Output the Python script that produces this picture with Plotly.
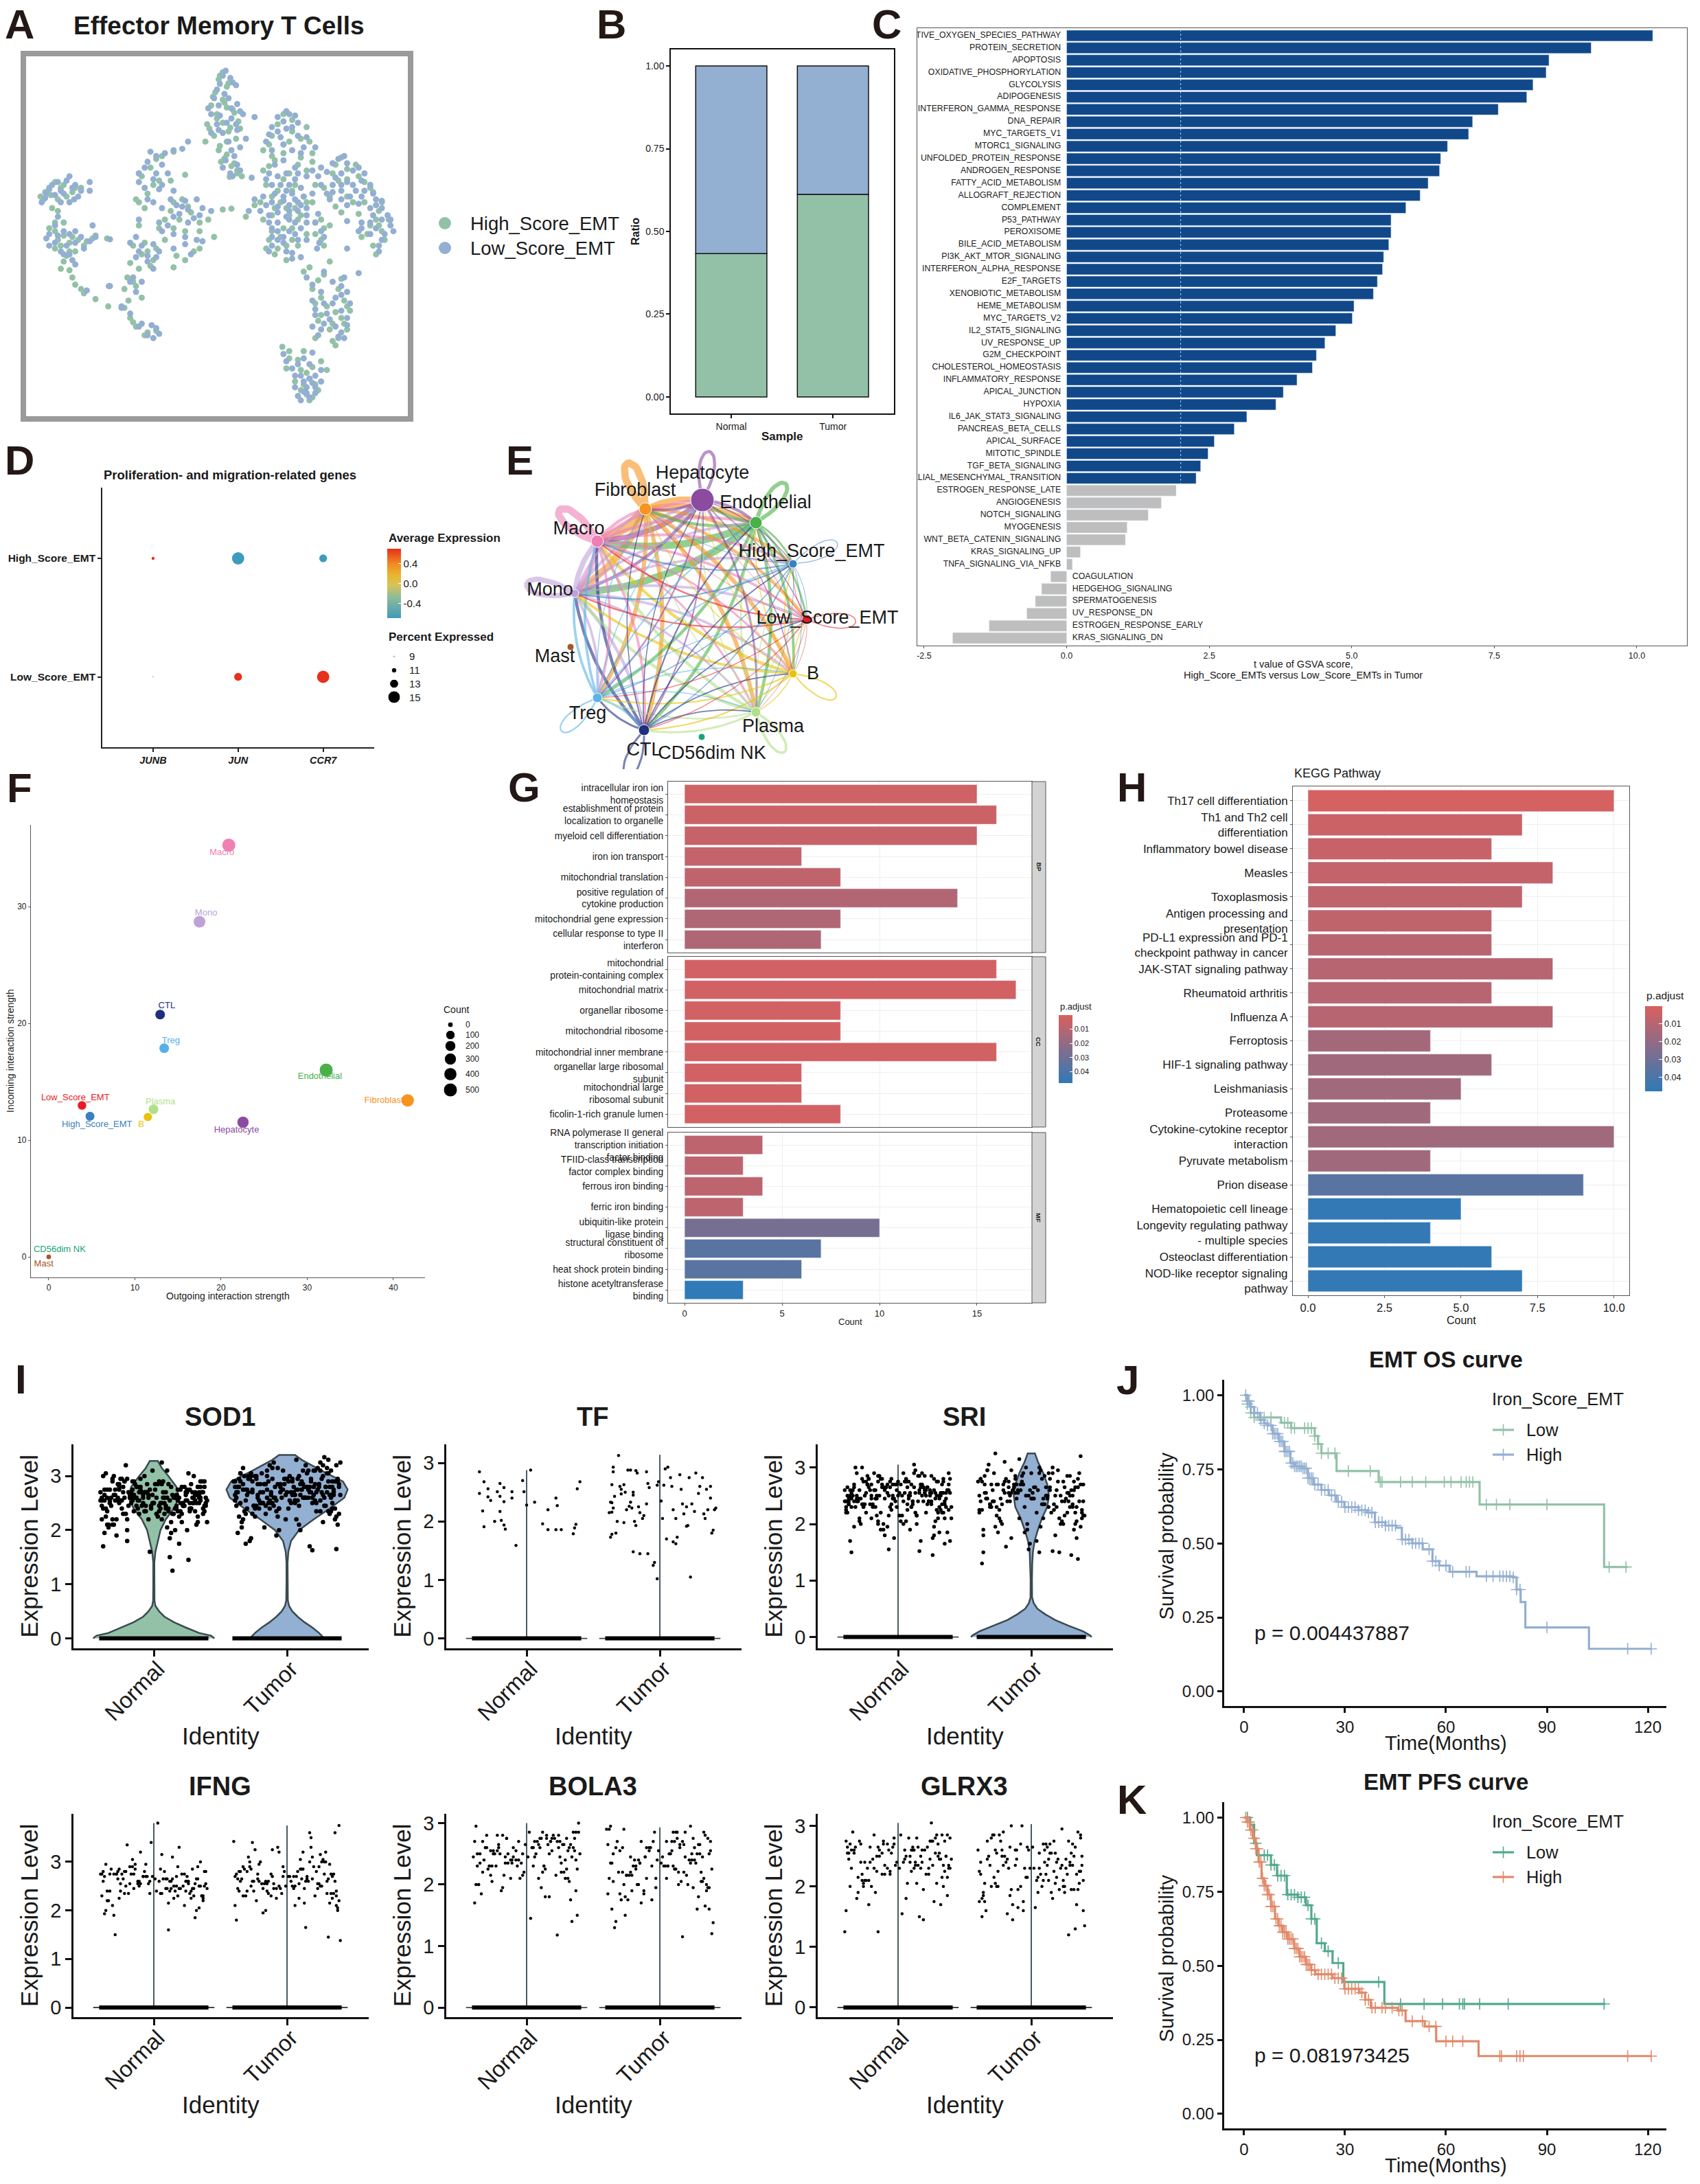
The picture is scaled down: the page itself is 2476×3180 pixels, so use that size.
import plotly.graph_objects as go
from bisect import bisect_right

W, H = 2476, 3180
FONT = "Liberation Sans"
INK = "#1a1a1a"
GREEN = "#93c1a8"
BLUE = "#93afd2"

# ---------- A: UMAP (read-off units) ----------
umap_high_x = [385,378,392,372,385,365,392,375,405,358,385,412,395,370,355,380,408,392,405,410,382,418,470,505,530,455,490,535,520,475,500,455,540,510,480,450,525,495,470,545,515,490,460,505,475,530,495,545,560,555,590,615,575,630,560,600,645,580,620,660,655,635,672,650,665,600,525,570,550,590,540,595,555,580,550,605,570,595,580,545,488,500,525,495,555,530,545,520,535,565,85,110,75,125,100,140,90,110,85,100,125,150,95,130,165,185,110,120,130,145,165,187,300,270,240,265,235,295,320,250,315,285,330,300,360,400,345,370,240,230,285,255,260,320,300,225,345,220,235,215,245,215,225,235,250,440,425]
umap_high_y = [250,275,300,320,345,365,372,395,390,430,425,420,455,470,490,505,480,535,565,600,560,610,470,415,440,520,500,490,545,555,600,590,560,640,660,700,680,720,745,640,760,790,860,830,880,810,900,770,790,830,545,570,600,630,650,680,665,715,740,700,780,810,760,880,830,620,940,905,970,965,1000,1040,1030,1080,1110,1075,1140,1120,1195,1170,1200,1240,1215,1275,1250,1290,1330,1350,1385,1280,650,640,690,665,690,650,720,770,790,830,820,835,860,870,815,825,905,935,985,1015,1035,1060,525,550,600,640,690,625,605,720,690,760,735,790,760,722,800,820,780,850,830,870,920,900,925,910,860,960,990,1000,1030,1065,1100,1130,1160,710,750]
umap_low_x = [390,398,380,408,370,395,360,410,380,400,375,420,440,410,385,365,425,400,385,415,405,435,398,325,495,480,510,470,495,515,460,485,545,505,470,525,490,510,460,480,530,500,470,520,540,490,510,470,440,500,530,450,480,515,465,500,530,480,520,510,470,490,550,470,495,555,548,520,505,595,575,555,610,590,630,550,575,610,590,640,565,625,650,600,640,570,660,675,645,665,620,600,655,625,600,620,530,560,590,540,600,575,545,600,565,540,590,560,595,550,490,515,540,510,545,525,515,545,530,555,120,155,90,105,80,130,72,120,135,155,100,85,110,130,95,115,145,140,110,190,125,160,188,150,210,315,285,260,280,255,240,270,250,280,300,320,265,305,340,310,290,325,345,365,320,350,265,240,270,235,240,300,330,255,230,245,240,262,275,265,225,210,190,430]
umap_low_y = [245,270,290,295,340,340,375,360,400,410,430,395,405,450,460,460,480,520,580,590,540,615,600,490,385,405,400,440,445,470,490,475,510,520,520,510,555,580,620,610,610,640,640,650,670,680,690,700,690,710,720,730,735,730,770,760,770,800,790,810,820,840,740,850,870,800,860,890,875,540,565,580,590,600,600,610,640,640,660,640,670,680,690,710,720,690,720,780,745,810,800,765,850,770,860,945,960,940,990,1040,1010,1050,1070,1100,1085,1130,1150,1120,1170,1160,1225,1260,1220,1300,1300,1320,1370,1360,1340,1320,610,630,640,660,670,640,700,700,680,660,750,810,800,800,840,850,860,820,880,828,900,780,990,1005,1060,515,530,525,570,560,630,600,650,640,660,695,700,710,690,740,780,770,745,730,820,835,845,870,890,820,760,860,880,905,960,975,1130,1125,1155,1170,1085,1065,990,730]
umap_high_more = [(380,262),(395,288),(368,335),(388,355),(402,378),(375,410),(362,445),(398,442),(415,445),(378,520),(392,490),(410,590),(400,575),(388,548),(397,612),(490,395),(480,430),(505,455),(465,500),(500,490),(520,480),(540,530),(470,540),(490,530),(515,570),(465,575),(530,590),(490,620),(505,660),(470,680),(460,640),(530,700),(485,700),(510,720),(500,745),(475,720),(455,760),(520,745),(540,700),(505,790),(470,800),(485,820),(465,830),(515,850),(480,860),(495,850),(545,810),(555,760),(570,780),(560,850),(580,570),(600,585),(620,610),(585,625),(640,650),(570,680),(610,700),(590,735),(630,700),(655,730),(650,760),(660,800),(640,780),(625,820),(645,850),(535,925),(560,950),(585,1000),(600,1060),(565,1060),(545,1050),(590,1100),(575,1120),(555,1090),(585,1170),(600,1140),(575,1180),(500,1215),(515,1245),(540,1270),(520,1280),(535,1310),(525,1330),(550,1350),(540,1375),(510,1320),(530,1365),(95,630),(105,650),(78,665),(115,680),(88,675),(130,650),(70,680),(100,730),(95,770),(95,800),(110,815),(120,840),(135,830),(105,850),(120,870),(145,850),(160,825),(115,885),(105,930),(125,960),(140,1000),(280,540),(260,580),(245,610),(275,625),(255,670),(240,700),(300,700),(325,715),(295,730),(310,760),(275,790),(320,800),(345,770),(385,725),(250,840),(270,860),(245,880),(265,900),(305,885),(335,870),(240,930),(230,975),(222,1040),(230,1115),(255,1150),(270,1145)]
umap_low_more = [(385,262),(402,285),(375,310),(388,325),(378,365),(400,375),(365,395),(415,385),(392,425),(408,430),(378,450),(395,490),(415,510),(390,555),(410,570),(402,610),(500,395),(490,420),(515,425),(480,455),(505,440),(530,475),(465,465),(490,500),(520,530),(475,570),(495,600),(515,600),(540,590),(465,600),(485,640),(510,620),(525,680),(495,660),(455,680),(475,670),(505,670),(515,700),(490,695),(460,710),(520,710),(480,715),(500,730),(530,745),(465,745),(495,750),(510,770),(480,770),(470,790),(500,800),(530,830),(490,820),(480,830),(515,830),(465,870),(505,895),(545,770),(560,820),(552,840),(585,550),(600,565),(620,580),(565,595),(580,615),(600,630),(625,625),(555,640),(590,640),(615,660),(645,670),(575,665),(605,680),(630,660),(660,695),(590,690),(620,705),(650,710),(670,745),(675,760),(660,760),(680,800),(640,770),(650,790),(625,790),(640,810),(660,830),(655,870),(540,985),(575,975),(595,960),(555,1010),(590,1020),(605,1050),(580,1030),(560,1050),(590,1075),(545,1090),(570,1105),(600,1125),(555,1140),(580,1130),(585,1165),(495,1250),(525,1240),(505,1275),(535,1260),(555,1280),(520,1300),(535,1310),(510,1340),(525,1355),(540,1325),(520,1385),(535,1375),(545,1340),(530,1360),(100,630),(115,625),(85,655),(95,675),(110,670),(125,650),(78,685),(105,700),(128,690),(140,660),(95,780),(80,825),(100,815),(120,810),(85,850),(105,870),(130,840),(155,835),(120,880),(130,915),(165,820),(300,520),(270,540),(250,580),(265,620),(240,600),(290,600),(275,655),(255,690),(295,690),(325,725),(280,720),(315,715),(300,750),(275,770),(335,755),(350,720),(300,810),(320,845),(340,830),(245,850),(255,885),(275,870),(235,890),(225,840),(280,800),(265,930),(225,975),(235,1010),(245,1120),(255,1160),(270,1135)]
legend_a = ["High_Score_EMT", "Low_Score_EMT"]

# ---------- B ----------
sample_cats = ["Normal", "Tumor"]
ratio_high = [0.433, 0.612]
ratio_low = [0.567, 0.388]

# ---------- C ----------
hallmark_names = ["CTIVE_OXYGEN_SPECIES_PATHWAY","PROTEIN_SECRETION","APOPTOSIS","OXIDATIVE_PHOSPHORYLATION","GLYCOLYSIS","ADIPOGENESIS","INTERFERON_GAMMA_RESPONSE","DNA_REPAIR","MYC_TARGETS_V1","MTORC1_SIGNALING","UNFOLDED_PROTEIN_RESPONSE","ANDROGEN_RESPONSE","FATTY_ACID_METABOLISM","ALLOGRAFT_REJECTION","COMPLEMENT","P53_PATHWAY","PEROXISOME","BILE_ACID_METABOLISM","PI3K_AKT_MTOR_SIGNALING","INTERFERON_ALPHA_RESPONSE","E2F_TARGETS","XENOBIOTIC_METABOLISM","HEME_METABOLISM","MYC_TARGETS_V2","IL2_STAT5_SIGNALING","UV_RESPONSE_UP","G2M_CHECKPOINT","CHOLESTEROL_HOMEOSTASIS","INFLAMMATORY_RESPONSE","APICAL_JUNCTION","HYPOXIA","IL6_JAK_STAT3_SIGNALING","PANCREAS_BETA_CELLS","APICAL_SURFACE","MITOTIC_SPINDLE","TGF_BETA_SIGNALING","ELIAL_MESENCHYMAL_TRANSITION","ESTROGEN_RESPONSE_LATE","ANGIOGENESIS","NOTCH_SIGNALING","MYOGENESIS","WNT_BETA_CATENIN_SIGNALING","KRAS_SIGNALING_UP","TNFA_SIGNALING_VIA_NFKB","COAGULATION","HEDGEHOG_SIGNALING","SPERMATOGENESIS","UV_RESPONSE_DN","ESTROGEN_RESPONSE_EARLY","KRAS_SIGNALING_DN"]
hallmark_t = [10.28,9.2,8.46,8.41,8.18,8.07,7.57,7.12,7.05,6.68,6.56,6.54,6.34,6.2,5.95,5.69,5.69,5.65,5.56,5.54,5.45,5.38,5.04,5.01,4.72,4.53,4.38,4.31,4.04,3.8,3.67,3.16,2.94,2.59,2.48,2.35,2.27,1.92,1.66,1.43,1.06,1.03,0.24,0.1,-0.28,-0.44,-0.55,-0.7,-1.36,-2.0]
t_threshold = 2.0

# ---------- D ----------
dot_genes = ["JUNB", "JUN", "CCR7"]
dot_groups = ["High_Score_EMT", "Low_Score_EMT"]
dot_expr = [[0.7, -0.7, -0.7], [-0.7, 0.7, 0.7]]
dot_pct = [[9.8, 15.0, 12.5], [8.7, 12.5, 15.0]]
pct_legend = [9, 11, 13, 15]

# ---------- E ----------
net_names = ["Hepatocyte","Endothelial","High_Score_EMT","Low_Score_EMT","B","Plasma","CTL","Treg","Mono","Macro","Fibroblast","Mast","CD56dim NK"]
net_x = [1023,1101,1155,1175,1155,1101,938,870,837,870,940,831,1022]
net_y = [728,761,821,902,981,1037,1063,1016,864,788,741,942,1073]
net_size = [34,18,12,14,12,14,16,14,12,18,18,10,10]
net_colors = ["#8b4ba0","#4ab04a","#3a80c0","#e81c24","#e8c30a","#b2df8a","#1f2f80","#5ab4e8","#c0a0d8","#ee7fb5","#f7931e","#a65628","#1aa37a"]
net_label_x = [1023,1115,1182,1205,1184,1126,938,856,801,843,925,808,1037]
net_label_y = [690,733,804,901,982,1059,1093,1040,860,771,715,957,1098]
net_weight = [
    [3,3,1,1,1,2,1.5,1.5,3,5,2.5],
    [3,4,2,2,2.5,3,3,3,7,7,3],
    [.5,.8,.8,.6,.6,.6,1,1,1.5,1.5,.6],
    [.5,.6,.6,1,.5,.5,.8,.8,1.5,1.5,.5],
    [.8,1,1,1,1.5,1,1.5,1.5,2.5,3,1],
    [1,1.5,1,1,1,2.5,2,1.5,3,3,1],
    [1,1.5,1.2,1.2,1.2,1.2,2,2,3,3,1],
    [1,1.3,1.2,1,1,1,2,1.5,2.5,2.5,1],
    [3,2.5,2.5,2.5,2.5,2,3,2.5,5,5,2],
    [3,3,2.5,2.5,2,2,2.5,2.5,5,7,3],
    [5,5,3,3,4,4,4,4,7,9,7],
]

# ---------- F ----------
scat_names = ["Macro","Mono","CTL","Treg","Endothelial","Fibroblast","Hepatocyte","Low_Score_EMT","High_Score_EMT","Plasma","B","CD56dim NK","Mast"]
scat_out = [20.9,17.5,12.93,13.4,32.2,41.66,22.55,3.86,4.79,12.16,11.5,0,0]
scat_in = [35.26,28.7,20.75,17.87,16.0,13.4,11.53,12.97,12.04,12.64,11.98,0,0]
scat_count = [500,347,170,170,500,420,313,105,125,170,87,0,0]
scat_colors = ["#f080b4","#bda2d6","#1f2f80","#56b0e8","#4ab04a","#f7931e","#8b4ba0","#e81c24","#3a80c0","#b2df8a","#e8c30a","#1aa37a","#a65628"]
scat_label_x = [20.1,18.26,13.7,14.17,31.47,38.9,21.8,3.09,5.6,12.97,10.73,1.27,-0.58]
scat_label_y = [34.6,29.4,21.47,18.47,15.4,13.4,10.87,13.63,11.32,13.27,11.29,0.63,-0.63]
count_legend = [0,100,200,300,400,500]

# ---------- G ----------
go_bp = ["intracellular iron ion<br>homeostasis","establishment of protein<br>localization to organelle","myeloid cell differentiation","iron ion transport","mitochondrial translation","positive regulation of<br>cytokine production","mitochondrial gene expression","cellular response to type II<br>interferon"]
go_bp_n = [15,16,15,6,8,14,8,7]
go_bp_p = [.003,.004,.005,.006,.007,.011,.012,.012]
go_cc = ["mitochondrial<br>protein-containing complex","mitochondrial matrix","organellar ribosome","mitochondrial ribosome","mitochondrial inner membrane","organellar large ribosomal<br>subunit","mitochondrial large<br>ribosomal subunit","ficolin-1-rich granule lumen"]
go_cc_n = [16,17,8,8,16,6,6,8]
go_cc_p = [.002,.002,.002,.002,.002,.002,.002,.002]
go_mf = ["RNA polymerase II general<br>transcription initiation<br>factor binding","TFIID-class transcription<br>factor complex binding","ferrous iron binding","ferric iron binding","ubiquitin-like protein<br>ligase binding","structural constituent of<br>ribosome","heat shock protein binding","histone acetyltransferase<br>binding"]
go_mf_n = [4,3,4,3,10,7,6,3]
go_mf_p = [.008,.008,.008,.008,.028,.036,.036,.048]

# ---------- H ----------
kegg_names = ["Th17 cell differentiation","Th1 and Th2 cell<br>differentiation","Inflammatory bowel disease","Measles","Toxoplasmosis","Antigen processing and<br>presentation","PD-L1 expression and PD-1<br>checkpoint pathway in cancer","JAK-STAT signaling pathway","Rheumatoid arthritis","Influenza A","Ferroptosis","HIF-1 signaling pathway","Leishmaniasis","Proteasome","Cytokine-cytokine receptor<br>interaction","Pyruvate metabolism","Prion disease","Hematopoietic cell lineage","Longevity regulating pathway<br>- multiple species","Osteoclast differentiation","NOD-like receptor signaling<br>pathway"]
kegg_n = [10,7,6,8,7,6,6,8,6,8,4,6,5,4,10,4,9,5,4,6,7]
kegg_p = [.001,.004,.005,.006,.007,.007,.009,.01,.01,.01,.015,.016,.016,.016,.016,.016,.036,.047,.047,.047,.047]

# ---------- I: violin outlines and jittered cells ----------
identity = ["Normal", "Tumor"]
sod1_n_lv = [0,.05,.1,.2,.3,.4,.5,.6,.7,1.0,1.4,1.6,1.8,2.0,2.2,2.4,2.6,2.8,3.0,3.15,3.28]
sod1_n_w = [.455,.43,.34,.24,.15,.08,.04,.012,.005,.004,.004,.012,.03,.05,.09,.15,.19,.17,.11,.06,.03]
sod1_t_lv = [0,.1,.2,.3,.4,.5,.6,.7,1.0,1.4,1.6,1.8,2.0,2.2,2.4,2.6,2.75,2.9,3.1,3.3,3.39]
sod1_t_w = [.28,.24,.19,.13,.08,.04,.015,.006,.004,.004,.01,.03,.09,.2,.32,.43,.455,.42,.26,.11,.06]
sri_t_lv = [0,.03,.1,.2,.3,.4,.5,.6,.7,1.0,1.3,1.5,1.7,1.9,2.1,2.3,2.5,2.7,2.9,3.1,3.25]
sri_t_w = [.453,.44,.39,.28,.18,.106,.046,.018,.006,.005,.007,.012,.025,.05,.08,.12,.132,.12,.09,.05,.027]
line_top = {"TF": (2.88, 3.14), "SRI": (3.05, None), "IFNG": (3.8, 3.75), "BOLA3": (3.0, 2.93), "GLRX3": (3.05, 3.03)}

jx_dense = [-.39,-.12,.21,.05,-.31,.36,-.22,.14,-.04,.29,-.36,.09,-.17,.33,-.27,.01,.18,-.08,.39,-.33,.25,-.14,.07,-.38,.31,-.2,.12,-.01,.37,-.29,-.06,.23,-.35,.16,-.24,.34,.03,-.11,.27,-.37,.1,-.3,.38,-.16,.2,-.03,.32,-.26,.06,-.4,.28,-.09,.15,-.34,.35,-.19,.02,-.13,.24,-.28,-.05,.3,-.21,.11,-.32,.4,-.1,.17,-.25,.08,.26,-.37,.13,-.02,.33,-.18,.22,-.07,.37,-.3,-.15,.04,.29,-.39,.19,-.23,.35,-.11,.09,-.33,.31,-.04,-.27,.14,.38,-.17,.06,-.36,.25,-.12,-.2,.34,0,-.31,.21,-.08,.12,-.26,.39,-.15,.18,-.35,.27,-.01,.32,-.22,.07,-.38,.16,-.06]
jx_dense2 = [0,-.35,.19,-.07,.28,-.24,.11,.36,-.15,-.39,.24,-.02,.33,-.29,.08,-.19,.39,-.1,.16,-.33,-.26,.13,.3,-.05,.22,-.37,.04,-.16,.35,-.23,.1,.27,-.31,-.13,.37,.01,-.21,.17,-.38,.31,-.09,.25,-.28,.06,.34,-.17,.2,-.03,-.34,.14,.38,-.25,.09,-.12,.29,-.36,.02,.23,-.2,.32,-.06,.18,-.3,.12,.4,-.14,.05,-.27,.26,-.4,.15,-.08,.33,-.22,.21,-.32,.07,.36,-.11,-.04,.28,-.37,.16,-.18,.03,.31,-.26,.1,.24,-.13,-.33,.19,.38,-.01,-.24,.13,.35,-.29,.06,-.16,.27,-.07,-.39,.22,.11,-.2,.34,-.35,.17,-.1,.08,.3,-.23,-.05,.25,-.31,.37,-.15,.04,.2]
sod1_n_y = [2.6,2.4,2.8,2.5,2.2,2.7,2.9,2.3,2.6,2.5,3.05,2.45,2.7,2.15,2.55,2.85,2.35,2.65,2.5,2.75,2.0,2.6,2.9,2.4,2.7,1.8,2.55,3.1,2.3,2.65,2.45,2.8,2.1,2.6,2.95,2.5,2.25,2.7,2.4,1.95,2.6,3.0,2.35,2.75,2.5,1.6,2.65,2.85,2.2,2.55,2.4,2.7,2.6,2.05,2.9,2.45,2.3,2.8,2.55,1.9,2.7,2.5,3.2,2.35,2.6,2.15,2.75,2.45,2.95,2.6,1.45,2.55,2.8,2.4,2.25,2.65,2.5,3.0,2.7,2.1,2.35,2.9,2.6,2.45,1.75,2.8,2.55,2.3,2.7,2.5,2.65,2.2,2.85,1.25,2.45,2.6,3.25,2.4,2.75,2.55,2.0,2.7,2.5,2.95,2.3,2.6,1.5,2.8,2.45,2.65,2.55,2.35,2.75,2.5,2.1,2.9,2.6,1.7,2.4,2.7]
sod1_n_y2 = [2.5,2.75,2.6,2.35,2.85,2.55,2.4,2.7,2.9,2.2,2.65,2.45,2.8,2.55,2.3,2.7,2.6,2.95,2.4,2.5,2.75,2.15,2.6,2.85,2.45,2.65,2.35,2.55,2.8,2.7,2.05,2.5,2.9,2.6,2.4,2.75,2.3,2.65,3.0,2.55,2.45,2.7,2.2,2.85,2.6,2.5,2.35,2.75,2.1,2.65,2.9,2.55,2.4,2.8,2.7,2.25,2.6,2.45,2.95,2.5,2.35,2.75,2.65,1.85,2.55,2.85,2.4,2.6,3.05,2.7,2.3,2.5,2.8,2.6,2.15,2.45,2.7,2.9,2.55,2.65,2.4,2.75,2.0,2.6,2.85,2.35,2.5,3.1,2.7,2.45,2.55,2.25,2.8,2.65,2.4,1.95,2.6,2.75,2.5,2.9,2.35,2.7,2.55,2.45,2.85,2.2,2.65,2.6,2.4,2.8,2.5,3.0,2.3,2.7,2.55,2.1,2.9,2.65,2.45,2.75]
sod1_t_y = [2.8,2.5,3.1,2.7,2.3,2.9,2.6,3.2,2.75,2.45,2.95,2.1,2.85,2.6,3.0,2.4,2.7,1.9,2.8,3.15,2.55,2.9,2.2,2.7,3.3,2.5,2.85,2.65,1.65,2.95,2.4,2.75,3.05,2.6,2.25,2.9,2.7,2.5,3.2,2.8,2.0,2.65,2.95,2.45,2.8,3.1,2.3,2.7,2.55,2.9,3.35,2.6,2.8,2.15,2.75,2.5,3.0,2.4,2.85,1.8,2.7,3.05,2.55,2.9,2.35,2.65,3.25,2.8,2.45,2.75,2.95,1.95,2.6,2.85,3.1,2.5,2.7,2.25,2.9,2.4,3.0,2.65,2.8,2.55,1.63,2.95,2.7,3.15,2.45,2.85,2.35,2.75,3.05,2.6,2.9,2.05,2.5,2.8,3.25,2.65,2.7,2.4,2.95,1.75,2.85,2.55,3.1,2.75,2.3,2.6,2.9,2.5,3.0,2.2,2.8,2.65,3.3,2.45,2.75,2.0]
sod1_t_y2 = [2.7,2.9,2.5,2.85,2.6,3.0,2.75,2.4,3.1,2.65,2.8,2.95,2.35,2.7,2.55,3.05,2.85,2.45,2.75,2.2,2.9,2.6,3.15,2.8,2.5,2.7,2.95,2.3,2.65,3.0,2.85,2.15,2.75,2.55,3.2,2.9,2.4,2.7,2.6,3.05,2.8,2.35,2.95,2.65,2.5,2.85,3.1,2.75,2.05,2.6,2.9,2.45,3.0,2.7,2.8,2.25,2.55,3.15,2.85,2.65,2.4,2.95,2.75,2.6,3.25,2.5,2.8,1.85,2.7,2.9,3.05,2.35,2.65,2.85,2.55,3.0,2.75,2.2,2.95,2.6,2.45,2.8,3.1,2.7,2.5,2.9,2.3,2.65,2.85,3.2,2.75,2.6,2.1,2.95,2.4,2.8,2.7,3.0,2.55,2.85,2.65,3.15,2.9,2.35,2.75,2.5,2.8,3.05,1.7,2.6,2.95,2.7,2.45,2.85,3.1,2.55,2.25,2.75,2.9,2.65]
sri_n_y = [2.4,2.7,2.2,2.55,2.9,2.3,2.65,2.0,2.45,2.75,2.5,1.9,2.6,2.35,2.8,2.15,2.5,2.7,1.7,2.4,2.55,2.85,2.25,2.65,1.85,2.45,3.05,2.3,2.6,2.1,2.75,2.4,1.5,2.55,2.2,2.8,2.5,2.65,1.95,2.35,2.7,2.45,2.9,2.15,2.6,1.75,2.5,2.3,2.75,2.4,2.05,2.65,2.85,2.5,1.65,2.35,2.7,2.2,2.55,2.45,2.8,2.1,2.6,2.4,3.0,2.3,1.8,2.65,2.5,2.75,1.45,2.45,2.2,2.7,2.55,2.9,2.35,1.55,2.6,2.4,2.75,2.0,2.5,2.25,2.65,2.85,2.4,1.9,2.55,2.7,2.3,2.5,3.0,2.15,2.6,2.45,2.8,1.7,2.35,2.65,2.5,2.2,2.75,2.4,2.6,1.95,2.9,2.3,2.55,2.05,2.7,2.45,1.8,2.6,2.25,2.8,2.35,2.5,1.52,2.65]
sri_n_y2 = [2.5,2.3,2.65,2.15,2.45,2.75,2.35,2.55,2.85,2.2,2.6,2.4,2.7,2.05,2.5,2.3,2.8,2.45,2.6,1.95,2.35,2.55,2.75,2.25,2.65,2.4,2.9,2.5,2.1,2.7,2.3,2.6,2.45,2.8,1.85,2.55,2.35,2.7,2.2,2.5,2.65,2.4,2.0,2.75,2.55,2.3,2.85,2.45,2.6,2.15,2.7,2.35,2.5,2.8,2.25,2.6,2.05,2.4,2.7,2.55,2.3,2.9,2.45,2.65,2.1,2.5,2.75,2.35,1.75,2.6,2.4,2.55,2.2,2.8,2.5,2.3,2.65,2.45,2.0,2.7,2.55,2.35,2.85,2.6,2.15,2.45,2.75,2.3,2.5,1.9,2.65,2.4,2.25,2.7,2.55,2.95,2.35,2.6,2.05,2.45,2.8,2.5,2.3,2.65,2.4,2.1,2.75,2.55,1.7,2.6,2.45,2.2,2.7,2.35,2.85,2.5,2.6,2.0,2.4,2.55]
sri_t_y = [2.5,2.8,2.1,2.6,2.35,2.9,2.0,2.65,3.0,2.3,1.5,2.45,2.75,2.2,3.25,2.55,1.8,2.7,2.4,2.95,2.15,2.6,1.95,2.8,2.3,3.1,2.5,1.65,2.7,2.4,2.9,2.05,2.55,3.0,2.25,1.75,2.65,2.45,2.85,1.3,2.35,2.7,2.1,2.5,2.95,1.9,2.6,2.3,1.5,2.75,2.4,3.15,2.2,2.55,2.8,1.6,2.45,2.65,2.0,2.9,2.3,1.45,2.7,2.5,3.05,2.15,2.6,2.35,1.85,2.8,2.45,2.25,2.9,1.55,2.65,2.4,2.0,2.75,3.2,2.3,2.55,1.7,2.85,2.2,2.6,2.45,1.38,2.7,2.1,2.95,2.35,2.5,1.95,2.8,2.25,2.65,3.0,1.8,2.4,2.55,2.75,2.05,2.9,2.3,1.5,2.6,2.45,2.15,2.7,1.75,2.5,2.85,2.2,2.6,1.9,2.35,2.95,2.4,1.52,2.7]
sri_t_y2 = [2.45,2.7,2.3,2.85,2.55,2.1,2.65,2.4,2.95,2.25,2.75,2.5,2.0,2.6,2.35,2.8,2.15,2.55,2.9,2.45,2.7,2.3,2.6,1.85,2.5,2.75,2.2,2.4,2.65,2.05,2.85,2.55,2.35,2.7,1.95,2.45,2.6,2.25,2.8,2.5,2.1,2.65,2.4,2.9,2.3,2.55,2.75,2.0,2.45,2.6,2.2,2.7,2.35,2.85,2.5,1.9,2.65,2.4,2.55,2.75]
jx_sparse = [-.38,.12,-.2,.3,-.05,.37,-.28,.18,-.12,.24,-.35,.06,.33,-.24,.15,-.02,.39,-.31,.09,-.16,.27,-.37,.2,-.08,.35,-.26,.03,.13,-.33,.29,-.1,.22,-.4,.36,-.18,.07,-.29,.16,.38,-.14,-.22,.31,-.03,.25,-.34,.1,-.07,.34,-.25,.19,-.36,.01,.28,-.17,.14,-.3,.4,-.11,.23,-.39,.05,.32,-.21,.17,-.06,.37,-.27,.11,-.15,.26]
jx_sparse2 = [.04,-.33,.21,-.11,.36,-.23,.08,.29,-.37,.15,-.04,.33,-.19,.25,-.3,.11,.38,-.14,.02,-.27,.18,-.08,.31,-.36,.13,-.21,.24,.06,-.39,.35,-.16,.1,-.25,.28,-.01,.39,-.32,.19,-.12,.23,-.28,.05,.34,-.18,.14,-.35,.3,-.06,.26,-.22,.09,-.38,.37,-.15,.17,-.03,.32,-.26,.12,-.1]
ifng_n_y = [2.8,2.6,3.35,2.45,2.7,2.3,2.75,2.9,2.55,2.4,2.2,3.15,2.65,2.75,2.5,3.4,2.8,2.1,2.65,2.9,2.35,1.93,2.45,2.7,3.0,2.25,3.8,2.6,2.75,2.85,3.2,2.5,2.75,2.3,2.55,2.65,1.5,2.4,2.8,2.95,2.35,1.85,2.6,2.7,2.2,2.45,2.8,2.05,2.55,3.3,2.95,2.65,2.4,2.75,3.1,1.9,2.45,2.6,2.75,2.3,2.85,2.0,2.5,2.7,2.95,2.25,2.8,1.6,2.45,2.6]
ifng_n_y2 = [2.6,2.4,2.75,2.5,2.3,2.65,2.8,2.45,2.7,2.25,2.55,2.9,2.35,2.6,2.75,2.15,2.5,2.85,2.4,2.65,2.3,2.7,2.55,2.0,2.45,2.8,2.6,2.35,2.75,2.5,3.05,2.65,2.4,2.25,2.7,2.55,2.85,2.45,2.6,2.1,2.75,2.35,2.5,2.9,2.65,2.4,2.3,2.7,2.55,2.8,2.45,2.6,2.2,2.75,2.5,2.35,2.65,2.85,2.4,2.55]
ifng_t_y = [1.8,3.2,3.0,2.6,2.45,2.1,3.0,3.5,2.75,2.9,2.6,2.5,2.35,3.25,2.7,2.8,3.75,2.3,2.55,2.0,3.05,2.65,2.9,2.45,2.75,3.4,2.6,2.15,2.3,3.2,2.55,2.8,3.42,3.6,2.45,2.7,3.1,2.6,2.05,2.35,2.75,1.45,2.9,2.5,2.65,2.85,3.3,2.25,2.6,3.1,2.4,2.7,3.0,2.55,1.65,2.8,1.38,3.25,2.45,2.1,2.7,2.95,2.6,3.6,2.5,2.3,2.85,2.65,2.4,3.0]
ifng_t_y2 = [2.5,2.9,2.3,2.7,2.6,2.2,2.8,3.0,2.45,2.65,2.35,2.75,2.55,3.15,2.4,2.85,2.0,2.6,2.7,2.5,3.3,2.25,2.65,2.8,2.45,2.95,2.55,2.1,2.7,2.35,2.6,3.05,2.4,2.75,2.5,2.2,2.85,2.65,2.3,2.55,2.9,2.45,2.7,1.95,2.6,2.8,2.35,3.2,2.5,2.65,2.25,2.75,2.4,2.55,3.0,2.7,2.15,2.6,2.85,2.45]
bola3_n_y = [2.95,2.2,2.5,2.75,2.1,2.85,2.3,2.7,2.4,2.6,2.35,2.7,1.75,2.5,2.75,2.2,3.0,2.6,2.1,2.45,2.65,2.3,2.8,2.55,2.85,2.05,1.45,2.3,2.7,2.4,2.6,2.15,2.45,2.75,1.95,2.5,2.25,2.65,1.5,2.35,2.8,2.1,2.5,2.7,1.85,2.6,2.3,1.4,2.55,2.75,2.0,2.45,2.65,2.15,2.25,2.8,2.5,2.35,1.18,2.7,2.3,2.05,2.6,1.8,2.4,1.9,2.55,1.95,2.75,2.2]
bola3_n_y2 = [2.6,2.2,2.75,2.4,2.55,2.3,2.7,2.1,2.5,2.8,2.35,2.65,1.9,2.45,2.6,2.75,2.25,2.5,2.85,2.15,2.7,2.4,2.55,2.0,2.3,2.65,2.8,2.45,1.7,2.6,2.35,2.75,2.5,2.2,2.65,2.85,2.4,2.55,2.1,2.7,2.3,2.6,2.45,2.8,1.8,2.5,2.25,2.7,2.35,2.55,2.65,2.0,2.4,2.75,2.5,2.15,2.6,2.3,2.85,2.45]
bola3_t_y = [2.1,2.85,2.3,2.5,2.7,1.6,2.2,2.65,1.9,2.4,2.05,2.3,2.85,1.75,2.6,2.4,1.2,2.2,2.7,2.0,2.35,2.95,2.15,2.55,1.9,1.5,2.3,2.85,1.4,2.65,2.1,2.4,2.9,1.95,2.25,2.5,1.75,2.05,2.55,2.7,2.45,2.2,1.95,2.75,1.3,2.3,2.6,1.65,2.15,2.85,1.6,2.35,2.5,2.0,2.2,1.85,1.38,2.45,2.95,1.85,2.7,2.05,2.15,1.15,2.3,2.5,2.0,2.7,2.35,2.6]
bola3_t_y2 = [2.3,2.6,2.0,2.45,2.75,2.15,2.5,1.8,2.35,2.65,2.85,2.1,2.4,1.95,2.55,2.25,2.7,1.7,2.45,2.9,2.2,2.6,2.05,2.35,2.75,1.9,2.5,2.3,2.65,2.0,2.4,2.85,2.15,1.6,2.55,2.25,2.7,2.45,1.85,2.35,2.6,2.1,2.8,2.3,2.0,2.5,2.65,1.75,2.4,2.2,2.55,2.9,1.95,2.35,2.7,2.1,2.45,1.8,2.25,2.6]
glrx3_n_y = [2.65,2.3,2.0,2.7,2.55,1.85,2.4,2.6,2.2,2.75,2.3,2.5,2.85,2.1,2.65,2.35,2.8,1.8,2.5,2.25,1.75,2.45,2.6,2.3,2.75,2.05,1.55,2.4,2.55,2.85,2.2,2.65,1.25,2.5,2.3,2.05,2.75,1.5,2.35,2.6,2.1,2.45,2.7,3.05,2.9,2.25,2.6,2.0,2.4,1.45,2.7,2.3,2.55,1.9,2.8,2.15,2.45,2.75,2.3,1.6,2.6,1.7,2.4,2.5,2.2,2.85,2.1,2.65,1.25,2.35]
glrx3_n_y2 = [2.4,2.6,2.2,2.7,2.5,2.3,2.8,2.05,2.55,2.35,2.65,2.15,2.45,2.75,1.9,2.6,2.3,2.5,2.85,2.2,2.4,2.7,2.55,2.0,2.35,2.65,2.45,1.8,2.75,2.25,2.5,2.6,2.1,2.8,2.4,2.3,2.65,1.95,2.55,2.2,2.7,2.45,2.35,2.85,2.05,2.6,2.5,2.25,2.75,1.7,2.4,2.55,2.15,2.65,2.3,2.8,2.45,2.0,2.6,2.35]
glrx3_t_y = [2.2,2.65,2.5,1.95,2.3,2.85,2.15,2.55,2.35,2.0,1.75,2.3,1.3,2.85,1.9,2.6,2.1,2.35,2.7,1.85,2.2,1.5,2.45,2.0,2.9,2.55,1.65,2.1,2.75,2.4,1.95,2.3,2.6,2.05,1.55,2.2,2.85,1.8,2.35,1.45,2.5,2.7,2.15,2.0,1.6,2.6,3.0,1.7,2.25,2.4,1.9,2.65,1.2,2.3,2.55,2.0,1.35,2.45,2.95,1.75,2.15,1.95,2.35,2.75,1.6,2.25,2.05,2.7,3.0,2.45]
glrx3_t_y2 = [2.1,2.45,1.95,2.6,2.25,2.75,2.0,2.35,1.8,2.55,2.15,2.65,2.4,1.9,2.8,2.2,2.5,1.7,2.3,2.6,2.05,2.7,2.35,1.85,2.45,2.9,2.1,2.55,2.25,1.95,2.65,2.4,2.0,2.75,2.3,1.6,2.5,2.15,2.6,2.35,2.85,1.9,2.2,2.45,2.7,2.05,2.55,1.75,2.3,2.6,2.1,2.4,2.8,1.95,2.25,2.65,2.5,2.0,2.35,1.65]
tf_n_x = [-.354,-.32,-.29,-.354,-.29,-.27,-.33,-.2,-.17,-.22,-.11,-.2,-.11,-.17,-.2,-.24,-.19,-.17,-.16,-.32,-.08,-.03,-.02,0,.03,.06,.16,.22,.23,.12,.16,.22,.26,.36,.37,.35,.38,.4]
tf_n_y = [2.85,2.68,2.56,2.48,2.42,2.36,2.18,2.65,2.58,2.51,2.51,2.43,2.4,2.34,2.17,2.0,2.02,1.94,1.87,1.91,1.59,2.7,2.51,2.28,2.88,2.33,2.2,2.4,2.27,1.96,1.86,1.86,1.86,1.89,1.95,1.79,2.56,2.68]
tf_t_x = [-.38,-.37,-.36,-.35,-.36,-.37,-.36,-.33,-.35,-.35,-.36,-.32,-.34,-.31,-.3,-.29,-.29,-.27,-.26,-.27,-.25,-.24,-.22,-.2,-.23,-.22,-.21,-.18,-.17,-.19,-.18,-.2,-.16,-.15,-.13,-.12,-.1,-.09,-.09,-.08,-.05,-.04,-.02,-.02,-.01,.01,.02,.03,.04,.06,.08,.09,.1,.1,.12,.12,.15,.16,.17,.18,.2,.21,.2,.22,.24,.26,.27,.29,.3,.32,.33,.34,.35,.36,.38,.39,.41,.42,.4,.38,-.15,-.2,.23,.13,-.1,.05]
tf_t_y = [2.15,2.33,2.32,2.23,2.16,1.73,1.78,1.8,2.93,2.85,2.63,2.0,2.43,3.13,2.6,2.55,2.47,2.63,2.5,1.98,2.2,2.88,2.88,2.45,2.26,2.33,2.23,2.87,2.83,2.0,1.93,2.5,2.25,2.15,2.05,2.1,2.85,2.65,1.45,2.58,1.25,1.3,1.02,2.62,2.68,2.35,2.05,2.62,2.9,2.93,2.75,2.6,2.2,1.65,2.05,1.62,2.8,2.55,2.3,2.13,1.92,1.93,2.25,2.75,2.3,2.17,2.83,2.48,2.6,2.75,2.13,2.05,2.55,2.2,2.4,1.8,2.2,2.23,1.85,2.6,1.45,1.48,1.05,1.73,2.3,1.7]

# ---------- J, K: survival steps and censor times ----------
os_low_t = [0,1,2,3,11,14,21,22,23,27.5,40,70,107,114]
os_low_s = [1,.97,.94,.925,.907,.889,.862,.835,.804,.744,.707,.631,.42,.42]
os_low_c = [1,2,3,5,6,8,12,13,14,15,18,19,20,21,22,23,25,27,31,37.5,40.5,41,46.5,50,54,59.5,61.5,64.5,66,67,68,72,75,79,90,108.5,113.5]
os_high_t = [0,1,2,3,4.7,6,7,8.5,10.4,12,13.8,15,17.2,19,20.6,23,25.2,27.5,29.8,34,36.6,38.9,42,45.2,46.9,50,53.1,56,58,61.1,69.1,79.9,81,82.2,83.6,102.5,121]
os_high_s = [1,.98,.96,.94,.916,.905,.898,.87,.844,.81,.771,.76,.753,.72,.698,.68,.662,.64,.622,.612,.604,.571,.56,.553,.513,.5,.48,.44,.425,.404,.389,.385,.344,.302,.216,.144,.144]
os_high_c = [.5,1,1.5,2,3,4,5,6,7,8,8.5,9,9.5,10,10.5,11,11.5,12,12.5,13,13.5,14,14.5,15,15.5,16,16.5,17,17.5,18,18.5,19,19.5,20,20.5,21,22,23,24,25,26,27,28,29,30,31,32,33,34,35,36,37,38,39,40,41,42,43,44,45,47,48,49,50,51,52,53,55,56,57,58,60,62,66,67,72,74,76,77,78,79,80,81,82,90,114,121]
pfs_low_t = [0,1.8,3,3.8,7,8,9.8,12.7,16,18.4,20,21.6,24,26.3,29.5,41.7,107.3]
pfs_low_s = [1,.976,.913,.873,.873,.84,.804,.74,.731,.704,.658,.576,.549,.509,.445,.371,.371]
pfs_low_c = [1,3.5,6,7,8,9,10,11,12,13,14,15,16,17,18,19,20,21,23,25,28,40,46.5,53.5,59,64,65,65.5,70,78.5,107]
pfs_high_t = [0,1,1.8,2.6,3.5,4.3,5.2,6,7,8,9.2,10.3,11.5,13,14.9,16.5,18.4,20,21.2,26.3,29.8,34.3,36,37.7,45.7,48,53.7,57.1,67.4,69.7,121]
pfs_high_s = [1,.985,.958,.93,.895,.85,.795,.77,.74,.7,.658,.635,.613,.59,.558,.53,.504,.485,.471,.458,.422,.409,.385,.358,.349,.313,.295,.245,.245,.195,.195]
pfs_high_c = [.5,1,1.5,2,2.5,3,3.5,4,4.5,5,5.5,6,6.5,7,7.5,8,8.5,9,9.5,10,10.5,11,11.5,12,12.5,13,13.5,14,14.5,15,15.5,16,16.5,17,17.5,18,18.5,19,19.5,20,21,22,23,24,25,26,27,28,29,30,31,32,33,34,35,36,37,38,39,41,42,44,46,47,50,53,55,57,60,62,65,76,76.5,81,82,83,114,121]
km_ticks_x = [0,30,60,90,120]
km_ticks_y = [0,.25,.5,.75,1]

# =========================================================================
fig = go.Figure()
layout = dict(width=W, height=H, margin=dict(l=0, r=0, t=0, b=0, autoexpand=False), barmode="overlay",
              paper_bgcolor="white", plot_bgcolor="rgba(0,0,0,0)", showlegend=False,
              font=dict(family=FONT, color=INK), annotations=[], shapes=[])

_n = [0]
def axes(box, xr, yr, xkw=None, ykw=None):
    _n[0] += 1
    k = "" if _n[0] == 1 else str(_n[0])
    l, t, r, b = box
    base = dict(showgrid=False, zeroline=False, ticks="", showticklabels=False, showline=False, automargin=False)
    xa = dict(base, domain=[l / W, r / W], range=xr, anchor="y" + k)
    ya = dict(base, domain=[1 - b / H, 1 - t / H], range=yr, anchor="x" + k)
    xa.update(xkw or {}); ya.update(ykw or {})
    layout["xaxis" + k] = xa
    layout["yaxis" + k] = ya
    return "x" + k, "y" + k

def txt(x, y, s, size, bold=False, color=INK, anchor="center", angle=0):
    layout["annotations"].append(dict(x=x / W, y=1 - y / H, xref="paper", yref="paper", text=f"<b>{s}</b>" if bold else s,
        showarrow=False, font=dict(size=size, color=color, family=FONT), xanchor=anchor, yanchor="middle", textangle=angle))

def tickax(size, vals=None, text=None, ln=5, line=1.5, color="#222", **kw):
    d = dict(ticks="outside", ticklen=ln, tickwidth=line, tickcolor=color, showticklabels=True,
             tickfont=dict(size=size, family=FONT, color=INK), showline=True, linewidth=line, linecolor=color)
    if vals is not None:
        d.update(tickmode="array", tickvals=vals)
    if text is not None:
        d["ticktext"] = text
    d.update(kw)
    return d

# panel letters
for s, x, y in [("A",28,35),("B",890,35),("C",1291,35),("D",28,670),("E",757,670),("F",28,1147),("G",763,1146),("H",1648,1146),("I",30,2008),("J",1642,2009),("K",1648,2620)]:
    txt(x, y, s, 60, bold=True, color="#231815")

# full-page helper axes for hand-placed legends
ovx, ovy = axes((0, 0, W, H), [0, W], [H, 0])

# A
fr = dict(showline=True, linewidth=8, linecolor="#9a9a9a", mirror=True)
x, y = axes((38, 82, 594, 606), [45, 705], [1440, 195], fr, fr)
hx = umap_high_x + [p[0] for p in umap_high_more]
hy = umap_high_y + [p[1] for p in umap_high_more]
lx = umap_low_x + [p[0] for p in umap_low_more]
ly_u = umap_low_y + [p[1] for p in umap_low_more]
fig.add_trace(go.Scatter(x=hx, y=hy, xaxis=x, yaxis=y, mode="markers", marker=dict(size=9, color=GREEN, opacity=1)))
fig.add_trace(go.Scatter(x=lx, y=ly_u, xaxis=x, yaxis=y, mode="markers", marker=dict(size=9, color=BLUE, opacity=1)))
txt(105, 38, "Effector Memory T Cells", 37, bold=True, anchor="left")
fig.add_trace(go.Scatter(x=[648, 648], y=[325, 361], xaxis=ovx, yaxis=ovy, mode="markers", marker=dict(size=18, color=[GREEN, BLUE], opacity=1)))
txt(683, 325, legend_a[0], 27.5, anchor="left")
txt(683, 361, legend_a[1], 27.5, anchor="left")

# B
fb = dict(mirror=True)
x, y = axes((977, 72, 1302, 602), [-0.595, 1.6], [-0.05, 1.05],
            tickax(14, [0, 1], sample_cats, color="#111", **fb),
            tickax(14, [0, .25, .5, .75, 1], ["0.00", "0.25", "0.50", "0.75", "1.00"], color="#111", **fb))
fig.add_trace(go.Bar(x=[0, 1], y=ratio_high, xaxis=x, yaxis=y, width=.7, marker=dict(color=GREEN, line=dict(color="#111", width=1.5))))
fig.add_trace(go.Bar(x=[0, 1], y=ratio_low, base=ratio_high, xaxis=x, yaxis=y, width=.7, marker=dict(color=BLUE, line=dict(color="#111", width=1.5))))
txt(925, 337, "Ratio", 16, bold=True, angle=-90)
txt(1139, 635, "Sample", 17, bold=True)

# C
idx = list(range(len(hallmark_t)))
x, y = axes((1336, 41, 2457, 940), [-2.62, 10.88], [49.61, -0.61],
            tickax(12.5, [-2.5, 0, 2.5, 5, 7.5, 10], ["-2.5", "0.0", "2.5", "5.0", "7.5", "10.0"], line=1, ln=3, mirror=True, color="#555"),
            dict(showline=True, linewidth=1, linecolor="#555", mirror=True))
fig.add_trace(go.Bar(y=idx, x=hallmark_t, orientation="h", xaxis=x, yaxis=y, width=.89,
                     marker=dict(color=["#10488a" if v > t_threshold else "#bebebe" for v in hallmark_t])))
n_sig = sum(v > t_threshold for v in hallmark_t)
fig.add_trace(go.Scatter(x=[t_threshold, t_threshold], y=[-.5, n_sig - .5], xaxis=x, yaxis=y, mode="lines",
                         line=dict(color="#a9d6f0", width=1, dash="dot")))
pos = [i for i in idx if hallmark_t[i] >= 0]
neg = [i for i in idx if hallmark_t[i] < 0]
fig.add_trace(go.Scatter(x=[-.1] * len(pos), y=pos, text=[hallmark_names[i] for i in pos], xaxis=x, yaxis=y, mode="text",
                         textposition="middle left", textfont=dict(size=12.3, family=FONT, color=INK)))
fig.add_trace(go.Scatter(x=[.1] * len(neg), y=neg, text=[hallmark_names[i] for i in neg], xaxis=x, yaxis=y, mode="text",
                         textposition="middle right", textfont=dict(size=12.3, family=FONT, color=INK)))
txt(1898, 967, "t value of GSVA score,", 14.5)
txt(1898, 983, "High_Score_EMTs versus Low_Score_EMTs in Tumor", 14.5)

# D
def pct_size(p):
    return 1.5 + (p - 8.7) * 2.6
CS_D = [[0, "#3f9bbb"], [.3, "#8fbb9a"], [.48, "#d8c455"], [.62, "#e8b530"], [.78, "#ee8c22"], [1, "#e8301a"]]
x, y = axes((149, 710, 545, 1088), [-.597, 2.6], [1.594, -.597],
            tickax(14.5, [0, 1, 2], [f"<b><i>{g}</i></b>" for g in dot_genes], color="#222"),
            tickax(15.5, [0, 1], [f"<b>{g}</b>" for g in dot_groups], color="#222"))
dx = [j for i in range(2) for j in range(3)]
dy = [i for i in range(2) for j in range(3)]
fig.add_trace(go.Scatter(x=dx, y=dy, xaxis=x, yaxis=y, mode="markers", marker=dict(
    size=[pct_size(dot_pct[i][j]) for i, j in zip(dy, dx)], color=[dot_expr[i][j] for i, j in zip(dy, dx)], opacity=1,
    cmin=-.7, cmax=.7, colorscale=CS_D, line=dict(width=0), showscale=True,
    colorbar=dict(x=564 / W, xanchor="left", y=1 - 799 / H, yanchor="top", len=101, lenmode="pixels", thickness=20, thicknessmode="pixels",
                  tickvals=[-.4, 0, .4], ticktext=["-0.4", "0.0", "0.4"], ticks="inside", ticklen=4, tickcolor="white", outlinewidth=0, xpad=0, ypad=0,
                  tickfont=dict(size=15, family=FONT, color=INK)))))
txt(149, 691, "Proliferation- and migration-related genes", 18.5, bold=True, anchor="left")
txt(564, 783, "Average Expression", 17, bold=True, anchor="left")
txt(564, 928, "Percent Expressed", 17, bold=True, anchor="left")
ly = [956, 976, 995.5, 1015]
fig.add_trace(go.Scatter(x=[574] * 4, y=ly, xaxis=ovx, yaxis=ovy, mode="markers", marker=dict(color="black", opacity=1, size=[pct_size(p) for p in pct_legend])))
for p, yy in zip(pct_legend, ly):
    txt(594, yy, str(p), 15, anchor="left")

# E
x, y = axes((730, 640, 1300, 1120), [730, 1300], [1120, 640])
def rgba(h, a):
    return f"rgba({int(h[1:3],16)},{int(h[3:5],16)},{int(h[5:7],16)},{a})"
cx, cy = 1000, 895
edges = []
for i, row in enumerate(net_weight):
    for j, wd in enumerate(row):
        edges.append((wd, i, j))
for wd, i, j in sorted(edges, reverse=True):
    x0, y0, x1, y1 = net_x[i], net_y[i], net_x[j], net_y[j]
    if i == j:
        ux, uy = x0 - cx, y0 - cy
        d = (ux ** 2 + uy ** 2) ** .5
        ux, uy = ux / d, uy / d
        ln, sp = 95, 38
        c1 = (x0 + ux * ln - uy * sp, y0 + uy * ln + ux * sp)
        c2 = (x0 + ux * ln + uy * sp, y0 + uy * ln - ux * sp)
        ts = [k / 24 for k in range(25)]
        px = [(1-t)**3*x0 + 3*(1-t)**2*t*c1[0] + 3*(1-t)*t*t*c2[0] + t**3*x0 for t in ts]
        py = [(1-t)**3*y0 + 3*(1-t)**2*t*c1[1] + 3*(1-t)*t*t*c2[1] + t**3*y0 for t in ts]
    else:
        mx, my = (x0 + x1) / 2, (y0 + y1) / 2
        c = (mx + (y1 - y0) * .16, my - (x1 - x0) * .16)
        ts = [k / 16 for k in range(17)]
        px = [(1-t)**2*x0 + 2*(1-t)*t*c[0] + t*t*x1 for t in ts]
        py = [(1-t)**2*y0 + 2*(1-t)*t*c[1] + t*t*y1 for t in ts]
    fig.add_trace(go.Scatter(x=px, y=py, xaxis=x, yaxis=y, mode="lines", cliponaxis=False, line=dict(color=rgba(net_colors[i], .6), width=wd * 1.5)))
fig.add_trace(go.Scatter(x=net_x, y=net_y, xaxis=x, yaxis=y, mode="markers", cliponaxis=False, marker=dict(size=net_size, color=net_colors, opacity=1)))
fig.add_trace(go.Scatter(x=net_label_x, y=net_label_y, text=net_names, xaxis=x, yaxis=y, mode="text", textposition="middle center", cliponaxis=False,
                         textfont=dict(size=27, family=FONT, color=INK)))

# F
def count_size(c):
    return 8 + (c / 500) ** .5 * 12
x, y = axes((45, 1201, 619, 1860), [-2.07, 43.67], [-1.76, 37],
            tickax(12, [0, 10, 20, 30, 40], line=1.2, ln=3, color="#555"), tickax(12, [0, 10, 20, 30], line=1.2, ln=3, color="#555"))
fig.add_trace(go.Scatter(x=scat_out, y=scat_in, xaxis=x, yaxis=y, mode="markers", marker=dict(size=[count_size(c) for c in scat_count], color=scat_colors, opacity=1)))
fig.add_trace(go.Scatter(x=scat_label_x, y=scat_label_y, text=scat_names, xaxis=x, yaxis=y, mode="text", textposition="middle center",
                         textfont=dict(size=13, family=FONT, color=scat_colors)))
txt(332, 1887, "Outgoing interaction strength", 14)
txt(15, 1530, "Incoming interaction strength", 14, angle=-90)
txt(644, 1470, "Count", 14, anchor="left")
cly = [1492, 1507, 1523, 1542, 1564, 1587]
fig.add_trace(go.Scatter(x=[656] * 6, y=cly, xaxis=ovx, yaxis=ovy, mode="markers", marker=dict(color="black", opacity=1, size=[count_size(c) for c in count_legend])))
for c, yy in zip(count_legend, cly):
    txt(676, yy, str(c), 12, anchor="left")

# G  (colour is minus p.adjust so that the colour bar reads small values at the top)
CS_P = [[0, "#2f7ab7"], [1, "#d9605f"]]
GRID = "#eeeeee"
P_TICKS = [.01, .02, .03, .04]
def cat_y(names, size):
    return tickax(size, list(range(len(names))), names, line=1, ln=3, color="#555", showgrid=True, gridcolor=GRID, mirror=True)
g_boxes = [(973, 1138, 1503, 1387), (973, 1393, 1503, 1641), (973, 1649, 1503, 1897)]
g_sets = [(go_bp, go_bp_n, go_bp_p, "BP"), (go_cc, go_cc_n, go_cc_p, "CC"), (go_mf, go_mf_n, go_mf_p, "MF")]
for k, (box, (nm, nv, pv, lab)) in enumerate(zip(g_boxes, g_sets)):
    xkw = dict(showline=True, linewidth=1, linecolor="#555", mirror=True, showgrid=True, gridcolor=GRID,
               tickmode="array", tickvals=[0, 5, 10, 15])
    if k == 2:
        xkw.update(ticks="outside", ticklen=3, tickcolor="#555", showticklabels=True, tickfont=dict(size=13, family=FONT, color=INK))
    x, y = axes(box, [-.85, 17.82], [7.62, -.6], xkw, cat_y(nm, 13.8))
    mk = dict(color=[-p for p in pv], cmin=-.048, cmax=0, colorscale=CS_P)
    if k == 0:
        mk.update(showscale=True, colorbar=dict(x=1542 / W, xanchor="left", y=1 - 1478 / H, yanchor="top", len=99, lenmode="pixels", thickness=20, thicknessmode="pixels",
                  tickvals=[-p for p in P_TICKS], ticktext=[f"{p:.2f}" for p in P_TICKS], ticks="inside", ticklen=4, tickcolor="white", outlinewidth=0, xpad=0, ypad=0,
                  tickfont=dict(size=11, family=FONT, color=INK)))
    fig.add_trace(go.Bar(y=list(range(8)), x=nv, orientation="h", xaxis=x, yaxis=y, width=.9, marker=mk))
    layout["shapes"].append(dict(type="rect", xref="paper", yref="paper", x0=1503 / W, x1=1523 / W, y0=1 - box[3] / H, y1=1 - box[1] / H,
                                 fillcolor="#d3d3d3", line=dict(color="#555", width=1)))
    txt(1513, (box[1] + box[3]) / 2, lab, 9.5, bold=True, angle=90)
txt(1238, 1924, "Count", 13)
txt(1542, 1465, "p.adjust", 13, anchor="left")

# H
x, y = axes((1883, 1145, 2373, 1886), [-.495, 10.5], [20.6, -.6],
            dict(showline=True, linewidth=1, linecolor="#555", mirror=True, showgrid=True, gridcolor=GRID, tickmode="array", tickvals=[0, 2.5, 5, 7.5, 10],
                 ticktext=["0.0", "2.5", "5.0", "7.5", "10.0"], ticks="outside", ticklen=3, tickcolor="#555", showticklabels=True, tickfont=dict(size=16.5, family=FONT, color=INK)),
            cat_y(kegg_names, 17))
fig.add_trace(go.Bar(y=list(range(21)), x=kegg_n, orientation="h", xaxis=x, yaxis=y, width=.9, marker=dict(
    color=[-p for p in kegg_p], cmin=-.048, cmax=0, colorscale=CS_P, showscale=True,
    colorbar=dict(x=2396 / W, xanchor="left", y=1 - 1465 / H, yanchor="top", len=124, lenmode="pixels", thickness=25, thicknessmode="pixels",
                  tickvals=[-p for p in P_TICKS], ticktext=[f"{p:.2f}" for p in P_TICKS], ticks="inside", ticklen=5, tickcolor="white", outlinewidth=0, xpad=0, ypad=0,
                  tickfont=dict(size=12.5, family=FONT, color=INK)))))
txt(1883, 1126, "KEGG Pathway", 18, anchor="left")
txt(2128, 1922, "Count", 16)
txt(2396, 1449, "p.adjust", 15.5, anchor="left")

# I
VL = "#3a4a50"
def violin(x, y, c, lv, wd, color):
    xs = [c - w for w in wd] + [c + w for w in reversed(wd)]
    ys = list(lv) + list(reversed(lv))
    fig.add_trace(go.Scatter(x=xs, y=ys, xaxis=x, yaxis=y, mode="lines", fill="toself", fillcolor=color, line=dict(color=VL, width=2.5)))
def thin(x, y, c, top):
    fig.add_trace(go.Scatter(x=[c - .455, c + .455, c, c, c], y=[0, 0, 0, top, 0], xaxis=x, yaxis=y, mode="lines", line=dict(color=VL, width=1.8)))
def cloud(x, y, c, jx, jy, size):
    fig.add_trace(go.Scatter(x=[c - .41, c + .41], y=[0, 0], xaxis=x, yaxis=y, mode="lines", line=dict(color="black", width=6)))
    fig.add_trace(go.Scatter(x=[c + v for v in jx], y=jy, xaxis=x, yaxis=y, mode="markers", marker=dict(color="black", size=size, opacity=1)))

panels = [
    ("SOD1", 107, 2103, 2400, [-.184, 3.587], [0,1,2,3]),
    ("TF", 650, 2103, 2400, [-.17, 3.32], [0,1,2,3]),
    ("SRI", 1191, 2103, 2400, [-.2, 3.41], [0,1,2,3]),
    ("IFNG", 107, 2641, 2937, [-.198, 3.99], [0,1,2,3]),
    ("BOLA3", 650, 2641, 2937, [-.156, 3.15], [0,1,2,3]),
    ("GLRX3", 1191, 2641, 2937, [-.159, 3.2], [0,1,2,3]),
]
clouds = {
    "SOD1": ((jx_dense + jx_dense2, sod1_n_y + sod1_n_y2), (jx_dense + jx_dense2, sod1_t_y + sod1_t_y2), 6.5),
    "TF": ((tf_n_x, tf_n_y), (tf_t_x, tf_t_y), 4.5),
    "SRI": ((jx_dense + jx_dense2, sri_n_y + sri_n_y2), (jx_dense + jx_dense2[:60], sri_t_y + sri_t_y2), 5.5),
    "IFNG": ((jx_sparse + jx_sparse2, ifng_n_y + ifng_n_y2), (jx_sparse + jx_sparse2, ifng_t_y + ifng_t_y2), 4.5),
    "BOLA3": ((jx_sparse + jx_sparse2, bola3_n_y + bola3_n_y2), (jx_sparse + jx_sparse2, bola3_t_y + bola3_t_y2), 4.5),
    "GLRX3": ((jx_sparse + jx_sparse2, glrx3_n_y + glrx3_n_y2), (jx_sparse + jx_sparse2, glrx3_t_y + glrx3_t_y2), 4.5),
}
for name, l, t, b, yr, yt in panels:
    r = l + 430
    x, y = axes((l, t, r, b), [-.603, 1.613], yr,
                tickax(33, [0, 1], identity, ln=9, line=2.5, color="#111", tickangle=-45, ticklabelshift=6, ticklabelstandoff=-14),
                tickax(29, yt, ln=9, line=2.5, color="#111"))
    if name == "SOD1":
        violin(x, y, 0, sod1_n_lv, sod1_n_w, GREEN)
        violin(x, y, 1, sod1_t_lv, sod1_t_w, BLUE)
    elif name == "SRI":
        thin(x, y, 0, line_top["SRI"][0])
        violin(x, y, 1, sri_t_lv, sri_t_w, BLUE)
    else:
        thin(x, y, 0, line_top[name][0])
        thin(x, y, 1, line_top[name][1])
    (nx, ny), (tx, ty), sz = clouds[name]
    cloud(x, y, 0, nx, ny, sz)
    cloud(x, y, 1, tx, ty, sz)
    txt(l + 213, t - 40, name, 38, bold=True)
    txt(l - 65, (t + b) / 2, "Expression Level", 35, angle=-90)
    txt(l + 214, b + 127, "Identity", 35)

# J, K
def step_at(ts, ss, v):
    return ss[max(bisect_right(ts, v) - 1, 0)]
def km(box, low, high, cl, ch, title, ptext):
    l, t, r, b = box
    x, y = axes(box, [-5.9, 125.5], [-.049, 1.052],
                tickax(24, km_ticks_x, ln=7, line=2.5, color="#111"),
                tickax(24, km_ticks_y, ["0.00", "0.25", "0.50", "0.75", "1.00"], ln=7, line=2.5, color="#111"))
    for (tt, ss, cc), col in ((low, cl), (high, ch)):
        fig.add_trace(go.Scatter(x=tt, y=ss, xaxis=x, yaxis=y, mode="lines", line=dict(color=col, width=3.2, shape="hv")))
        fig.add_trace(go.Scatter(x=cc, y=[step_at(tt, ss, v) for v in cc], xaxis=x, yaxis=y, mode="markers",
                                 marker=dict(symbol="cross-thin", size=12, color=col, line=dict(color=col, width=1.6))))
    txt(2106, t - 30, title, 33, bold=True)
    txt(2106, b + 54, "Time(Months)", 29)
    txt(1698, (t + b) / 2 - 10, "Survival probability", 29, angle=-90)
    txt(1825, t + 368, ptext, 30, anchor="left")
    txt(2171, t + 28, "Iron_Score_EMT", 25.4, anchor="left")
    for lab, col, yy in (("Low", cl, t + 73), ("High", ch, t + 109)):
        fig.add_trace(go.Scatter(x=[2174, 2205], y=[yy, yy], xaxis=ovx, yaxis=ovy, mode="lines", line=dict(color=col, width=3.2)))
        fig.add_trace(go.Scatter(x=[2189.5], y=[yy], xaxis=ovx, yaxis=ovy, mode="markers",
                                 marker=dict(symbol="cross-thin", size=12, color=col, line=dict(color=col, width=1.6))))
        txt(2221, yy, lab, 25.4, anchor="left")

km((1783, 2009, 2427, 2484), (os_low_t, os_low_s, os_low_c), (os_high_t, os_high_s, os_high_c), GREEN, BLUE, "EMT OS curve", "p = 0.004437887")
km((1783, 2624, 2427, 3099), (pfs_low_t, pfs_low_s, pfs_low_c), (pfs_high_t, pfs_high_s, pfs_high_c), "#53a98b", "#e08a6a", "EMT PFS curve", "p = 0.081973425")

fig.update_layout(**layout)
fig.write_html("out.html", post_script="document.body.style.margin='0';document.body.style.background='white';", config={"displayModeBar": False})
